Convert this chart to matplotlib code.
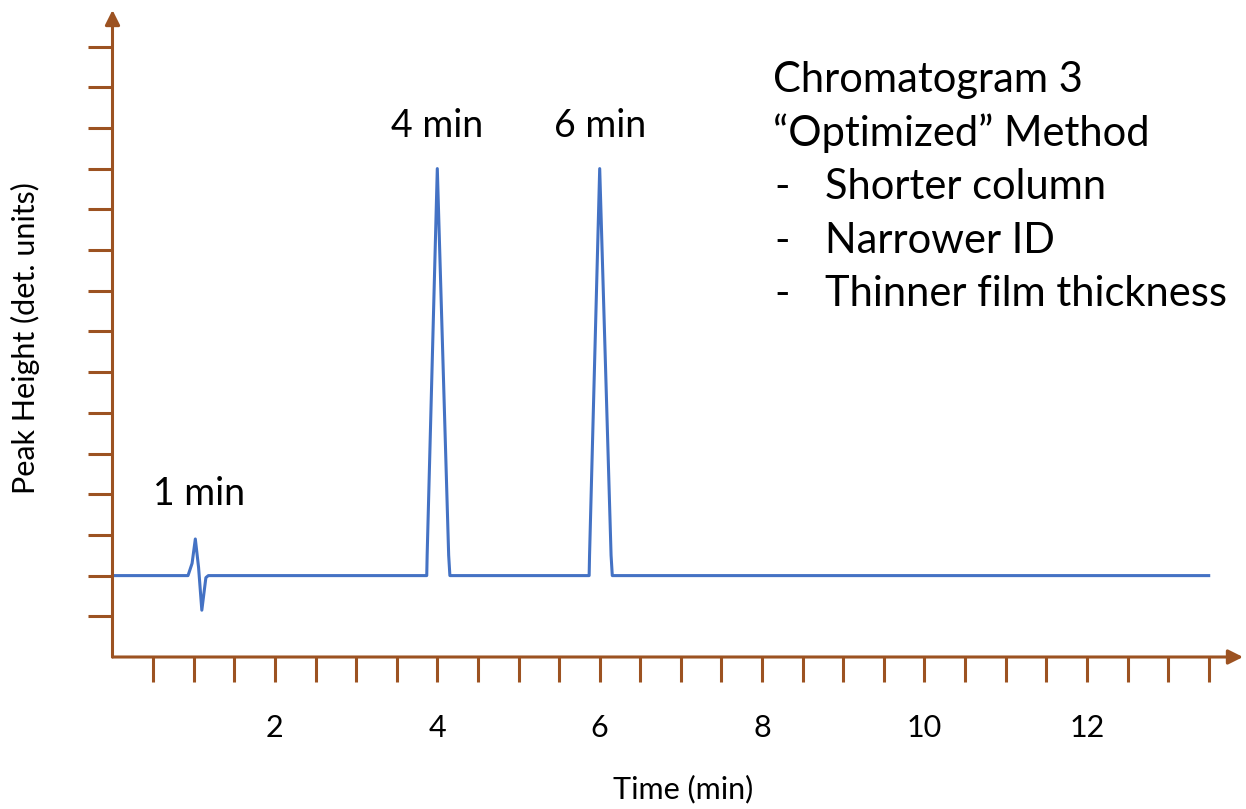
import matplotlib.pyplot as plt
import numpy as np

# Datos del cromatograma (tiempo en min, altura en unidades del detector)
t = [0.0, 0.93, 0.98, 1.02, 1.06, 1.10, 1.15, 1.18,
     3.87, 3.875, 4.00, 4.14, 4.155,
     5.87, 5.875, 6.00, 6.14, 6.155, 13.5]
h = [2.0, 2.0, 2.3, 2.9, 2.2, 1.15, 1.95, 2.0,
     2.0, 2.5, 12.0, 2.5, 2.0,
     2.0, 2.5, 12.0, 2.5, 2.0, 2.0]

peak_labels = ['1 min', '4 min', '6 min']
peak_pos = [1.07, 4.0, 6.0]
peak_label_h = [3.73, 12.78, 12.78]

info_title = ['Chromatogram 3', '\u201cOptimized\u201d Method']
info_items = ['Shorter column', 'Narrower ID', 'Thinner film thickness']

brown = '#9C5221'
blue = '#4472C4'
font = 'Lato'

fig = plt.figure(figsize=(12.46, 8.09), dpi=100)
ax = fig.add_axes([112.5/1246, 1 - 657/809, (1243-112.5)/1246, (657-10)/809])
xmax = (1243-112.5)/81.2
ymax = (657-10)/40.7
ax.set_xlim(0, xmax)
ax.set_ylim(0, ymax)

ax.plot(t, h, color=blue, lw=2.2)

# Ejes con flechas
for s in ax.spines.values():
    s.set_visible(False)
ax.annotate('', xy=(xmax, 0), xytext=(0, 0),
            arrowprops=dict(arrowstyle='-|>', color=brown, lw=2.2, mutation_scale=22,
                            shrinkA=0, shrinkB=0), annotation_clip=False)
ax.annotate('', xy=(0, ymax), xytext=(0, 0),
            arrowprops=dict(arrowstyle='-|>', color=brown, lw=2.2, mutation_scale=22,
                            shrinkA=0, shrinkB=0), annotation_clip=False)

xt = np.arange(0.5, 13.6, 0.5)
ax.set_xticks(xt)
ax.set_xticklabels([f'{v:g}' if v % 2 == 0 else '' for v in xt], fontsize=22, family=font)
ax.set_yticks(np.arange(1, 16))
ax.set_yticklabels([])
ax.tick_params(axis='x', direction='out', length=18, width=2.2, color=brown, pad=23)
ax.tick_params(axis='y', direction='out', length=18, width=2.2, color=brown)

for lab, x, y in zip(peak_labels, peak_pos, peak_label_h):
    ax.text(x, y, lab, ha='center', va='baseline', fontsize=27, family=font)

y0, dy = 13.88, 1.317
for i, line in enumerate(info_title):
    ax.text(8.13, y0 - i*dy, line, ha='left', va='baseline', fontsize=30, family=font)
for i, line in enumerate(info_items):
    y = y0 - (i + 2)*dy
    ax.text(8.15, y, '-', ha='left', va='baseline', fontsize=30, family=font)
    ax.text(8.77, y, line, ha='left', va='baseline', fontsize=30, family=font)

ax.set_xlabel('Time (min)', fontsize=22, family=font)
ax.set_ylabel('Peak Height (det. units)', fontsize=22, family=font)
ax.xaxis.set_label_coords(0.505, -0.182)
ax.yaxis.set_label_coords(-0.064, 0.493)

fig.savefig('out.png', dpi=100)
